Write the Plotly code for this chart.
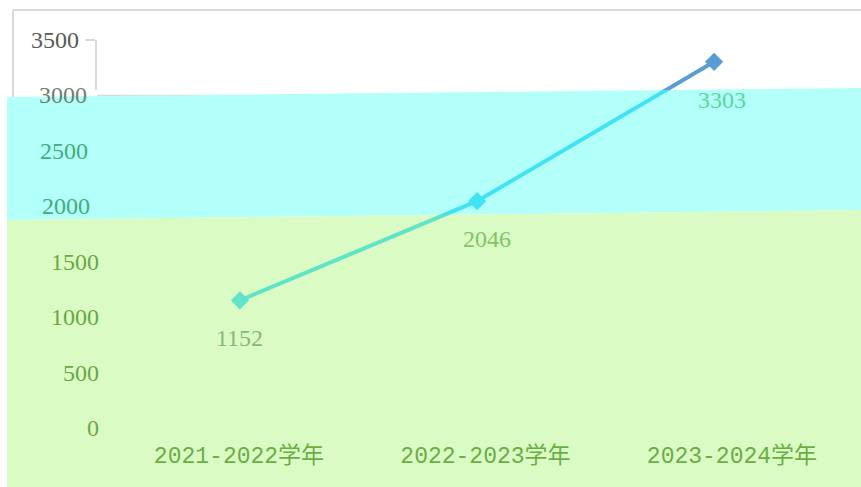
import plotly.graph_objects as go

# ---- data ----
categories = ["2021-2022学年", "2022-2023学年", "2023-2024学年"]
values = [1152, 2046, 3303]
y_ticks = [0, 500, 1000, 1500, 2000, 2500, 3000, 3500]
y_tick_labels = ["0", "500", "1000", "1500", "2000", "2500", "3000", "3500"]

# ---- layout geometry (pixels) ----
W, H = 861, 487
L, R, T, B = 97, 26, 40, 59
PW, PH = W - L - R, H - T - B
YMAX = 3500


def px(x):
    return (x - L) / PW


def py(y):
    return (H - B - y) / PH


# band boundaries used for colouring the line (pixel rows)
f_low = py(215)
f_top = py(90)
r_low = f_low * YMAX
r_top = f_top * YMAX

GREEN_LINE = "#5fe3c9"
CYAN_LINE = "#3fe3f3"
BLUE_LINE = "#5b9bd5"

fig = go.Figure()
for yax, col in [("y2", GREEN_LINE), ("y3", CYAN_LINE), ("y4", BLUE_LINE)]:
    fig.add_trace(go.Scatter(
        x=categories, y=values, xaxis="x", yaxis=yax,
        mode="lines+markers",
        line=dict(color=col, width=4),
        marker=dict(symbol="diamond", size=14, color=col),
        cliponaxis=True, hoverinfo="skip", showlegend=False,
    ))

# dummy trace for the label axis
fig.add_trace(go.Scatter(x=[0, 1, 2], y=[None, None, None], xaxis="x2", yaxis="y",
                         hoverinfo="skip", showlegend=False))

# tick label annotations
tick_colors = ["#6aa843", "#6aa843", "#6aa843", "#6aa843", "#3fae7a", "#3fae7a", "#6b7f70", "#595959"]
tick_right = [101, 101, 101, 101, 92, 90, 89, 81]
annotations = []
for v, lab, c, rx in zip(y_ticks, y_tick_labels, tick_colors, tick_right):
    annotations.append(dict(
        x=px(rx), y=v, xref="paper", yref="y", xanchor="right", yanchor="middle",
        text=lab, showarrow=False,
        font=dict(family="Liberation Serif, Times New Roman, serif", size=24, color=c),
    ))

label_colors = ["#86b878", "#7fc46a", "#5cd69c"]
label_xshift = [0, 10, 8]
for cat, v, c, xs in zip(categories, values, label_colors, label_xshift):
    annotations.append(dict(
        x=cat, y=v, xref="x", yref="y", yshift=-38, xshift=xs,
        text=str(v), showarrow=False,
        font=dict(family="Liberation Serif, Times New Roman, serif", size=24, color=c),
    ))


def path(points):
    s = "M " + " L ".join(f"{px(x):.5f},{py(y):.5f}" for x, y in points) + " Z"
    return s


shapes = [
    dict(type="line", xref="paper", yref="paper", x0=px(13), x1=px(861), y0=py(10), y1=py(10),
         line=dict(color="#d9d9d9", width=2), layer="below"),
    dict(type="line", xref="paper", yref="paper", x0=px(13), x1=px(13), y0=py(10), y1=py(100),
         line=dict(color="#d9d9d9", width=2), layer="below"),
    dict(type="line", xref="paper", yref="y", x0=0, x1=px(700), y0=3000, y1=3000,
         line=dict(color="#d9d9d9", width=1.5), layer="below"),
    dict(type="path", xref="paper", yref="paper",
         path=path([(7, 97), (861, 88), (861, 210), (7, 220)]),
         fillcolor="#b3fffa", line=dict(width=0), layer="below"),
    dict(type="path", xref="paper", yref="paper",
         path=path([(7, 220), (861, 210), (861, 487), (7, 487)]),
         fillcolor="#dafcc4", line=dict(width=0), layer="below"),
]

fig.update_layout(
    width=W, height=H,
    margin=dict(l=L, r=R, t=T, b=B, pad=0),
    paper_bgcolor="white",
    plot_bgcolor="rgba(0,0,0,0)",
    hovermode=False,
    showlegend=False,
    xaxis=dict(type="category", range=[-0.603, 2.51], domain=[0, 1], anchor="y",
               showticklabels=False, showgrid=False, showline=False, zeroline=False, ticks=""),
    xaxis2=dict(overlaying="x", anchor="y", side="bottom", range=[-0.576, 2.418],
                tickmode="array", tickvals=[0, 1, 2], ticktext=categories,
                showgrid=False, showline=False, zeroline=False, ticks="",
                ticklabelstandoff=11,
                tickfont=dict(family="Liberation Mono, Noto Sans CJK SC, monospace", size=23, color="#6aae44")),
    yaxis=dict(domain=[0, 1], range=[0, YMAX], visible=False),
    yaxis2=dict(domain=[0, f_low], range=[0, r_low], anchor="x", visible=False),
    yaxis3=dict(domain=[f_low, f_top], range=[r_low, r_top], anchor="x", visible=False),
    yaxis4=dict(domain=[f_top, 1], range=[r_top, YMAX], anchor="x",
                showline=True, linecolor="#d9d9d9", linewidth=1.5,
                showgrid=True, gridcolor="#d9d9d9", gridwidth=1.5,
                tickmode="array", tickvals=[3500], ticks="outside", ticklen=10,
                tickcolor="#d9d9d9", tickwidth=1.5,
                showticklabels=False, zeroline=False),
    annotations=annotations,
    shapes=shapes,
)

fig.write_html("out.html", config={"displayModeBar": False},
               post_script="document.body.style.margin='0';document.body.style.overflow='hidden';")
